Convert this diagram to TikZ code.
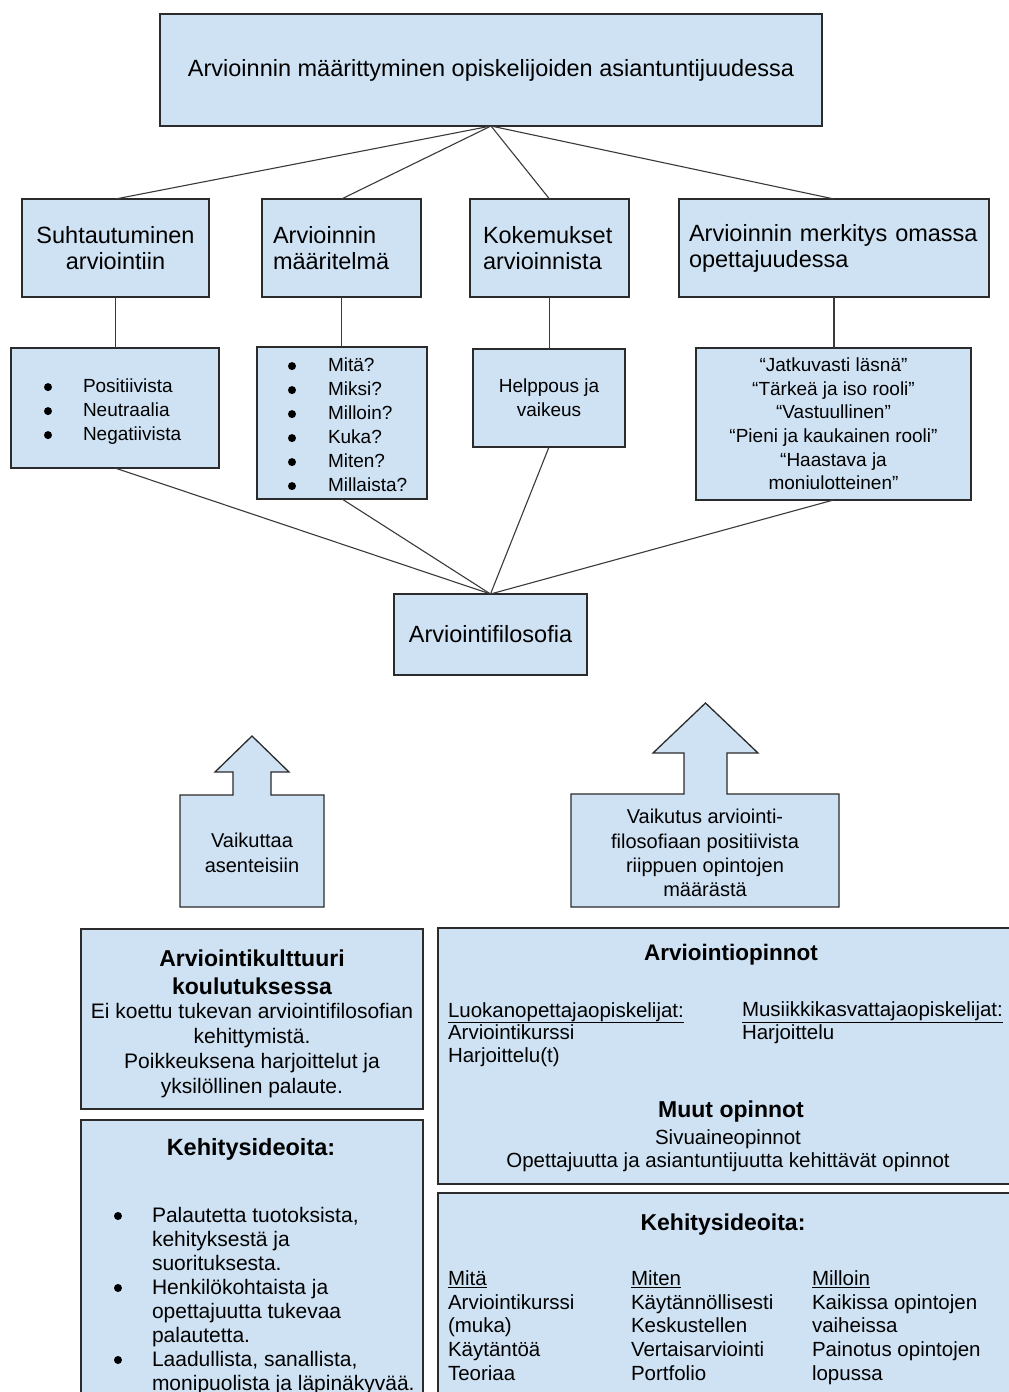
\documentclass[tikz,border=0pt]{standalone}
\usepackage{fontspec}
\setmainfont{Liberation Sans}
\newcommand\myfs[2]{\fontsize{#1}{#2}\selectfont}
\newcommand\mybul{\tikz[baseline=-0.3em]\fill[black] (0pt,0pt) circle[radius=4pt];}
\definecolor{boxfill}{HTML}{CFE2F3}
\definecolor{edge}{HTML}{2B2B2B}
\definecolor{connc}{HTML}{3A3A3A}
\tikzset{
 box/.style={draw=edge, fill=boxfill, line width=1.3pt, inner sep=0pt, outer sep=0pt},
 conn/.style={draw=connc, line width=1.1pt},
 txt/.style={inner sep=0pt, outer sep=0pt, text=black},
}
\begin{document}
\begin{tikzpicture}[x=1pt,y=-1pt]
\useasboundingbox (0,0) rectangle (1009,1392);
\fill[white] (0,0) rectangle (1009,1392);
\clip (0,0) rectangle (1009,1392);

% top
\node[box, minimum width=662, minimum height=112, font=\myfs{23.5}{28}] (top) at (491,70) {Arvioinnin määrittyminen opiskelijoiden asiantuntijuudessa};

% row 2
\node[box, minimum width=187, minimum height=98, align=center, font=\myfs{23.5}{26}] (s2a) at (115.5,248) {Suhtautuminen\\arviointiin};
\node[box, minimum height=98, text width=137, inner xsep=11, align=left, font=\myfs{23.5}{26}] (s2b) at (341.5,248) {Arvioinnin\\määritelmä};
\node[box, minimum height=98, text width=133, inner xsep=13, align=left, font=\myfs{23.5}{26}] (s2c) at (549.5,248) {Kokemukset\\arvioinnista};
\node[box, minimum height=98, text width=290, inner xsep=10, align=left, font=\myfs{23.5}{26}] (s2d) at (834,248) {Arvioinnin merkitys omassa\\opettajuudessa};

% row 3
\node[box, minimum width=208, minimum height=120] (s3a) at (115,408) {};
\node[txt, anchor=west, font=\myfs{19}{24}] (s3at) at (44,412) {\begin{tabular}{@{}p{39pt}@{}l@{}}\mybul & Positiivista\\ \mybul & Neutraalia\\ \mybul & Negatiivista\end{tabular}};
\node[box, minimum width=170, minimum height=152] (s3b) at (342,423) {};
\node[txt, anchor=west, font=\myfs{19}{24}] (s3bt) at (288,427) {\begin{tabular}{@{}p{40pt}@{}l@{}}\mybul & Mitä?\\ \mybul & Miksi?\\ \mybul & Milloin?\\ \mybul & Kuka?\\ \mybul & Miten?\\ \mybul & Millaista?\end{tabular}};
\node[box, minimum width=152, minimum height=98, align=center, font=\myfs{19}{24}] (s3c) at (549,398) {Helppous ja\\vaikeus};
\node[box, minimum width=275, minimum height=152, align=center, font=\myfs{19}{23.6}] (s3d) at (833.5,424) {“Jatkuvasti läsnä”\\“Tärkeä ja iso rooli”\\“Vastuullinen”\\“Pieni ja kaukainen rooli”\\“Haastava ja\\moniulotteinen”};

% filosofia
\node[box, minimum width=193, minimum height=81, font=\myfs{23.5}{28}] (filo) at (490.5,634.5) {Arviointifilosofia};

% connectors
\draw[conn] (top.south) -- (s2a.north);
\draw[conn] (top.south) -- (s2b.north);
\draw[conn] (top.south) -- (s2c.north);
\draw[conn] (top.south) -- (s2d.north);
\draw[conn] (s2a.south) -- (s2a.south |- s3a.north);
\draw[conn] (s2b.south) -- (s2b.south |- s3b.north);
\draw[conn] (s2c.south) -- (s2c.south |- s3c.north);
\draw[conn] (s2d.south) -- (s2d.south |- s3d.north);
\draw[conn] (s3a.south) -- (filo.north);
\draw[conn] (s3b.south) -- (filo.north);
\draw[conn] (s3c.south) -- (filo.north);
\draw[conn] (s3d.south) -- (filo.north);

% block arrows
\path[box, line join=miter] (180,907) -- (180,795) -- (233,795) -- (233,772) -- (215,772) -- (252,736) -- (289,772) -- (271,772) -- (271,795) -- (324,795) -- (324,907) -- cycle;
\node[txt, align=center, font=\myfs{20}{25}] (arrLt) at (252,853) {Vaikuttaa\\asenteisiin};
\path[box, line join=miter] (571,907) -- (571,794) -- (684,794) -- (684,753) -- (653,753) -- (705.5,703) -- (758,753) -- (727,753) -- (727,794) -- (839,794) -- (839,907) -- cycle;
\node[txt, align=center, font=\myfs{20}{24.3}] (arrRt) at (705,853) {Vaikutus arviointi-\\filosofiaan positiivista\\riippuen opintojen\\määrästä};

% bottom left
\node[box, minimum width=342, minimum height=180] (kult) at (252,1019) {};
\node[txt, align=center, font=\bfseries\myfs{23}{28}] (kultT) at (252,972) {Arviointikulttuuri\\koulutuksessa};
\node[txt, align=center, font=\myfs{21}{25}] (kultB) at (252,1050.5) {Ei koettu tukevan arviointifilosofian\\kehittymistä.\\Poikkeuksena harjoittelut ja\\yksilöllinen palaute.};

\node[box, anchor=north west, minimum width=342, minimum height=300] (kehL) at (81,1120) {};
\node[txt, font=\bfseries\myfs{23.5}{28}] (kehLT) at (251,1149) {Kehitysideoita:};
\node[txt, anchor=west, font=\myfs{21}{24}] (kehLB) at (114,1301.5) {\begin{tabular}{@{}p{38pt}@{}l@{}}\mybul & Palautetta tuotoksista,\\ & kehityksestä ja\\ & suorituksesta.\\ \mybul & Henkilökohtaista ja\\ & opettajuutta tukevaa\\ & palautetta.\\ \mybul & Laadullista, sanallista,\\ & monipuolista ja läpinäkyvää.\end{tabular}};

% bottom right
\node[box, anchor=north west, minimum width=580, minimum height=256] (opin) at (438,928) {};
\node[txt, font=\bfseries\myfs{22.5}{28}] (opinT) at (731,955) {Arviointiopinnot};
\node[txt, anchor=west, font=\myfs{20.5}{22.5}] (opinL) at (448,1035) {\begin{tabular}{@{}l@{}}\underline{Luokanopettajaopiskelijat:}\\Arviointikurssi\\Harjoittelu(t)\end{tabular}};
\node[txt, anchor=west, font=\myfs{20.5}{22.5}] (opinR) at (742,1023.5) {\begin{tabular}{@{}l@{}}\underline{Musiikkikasvattajaopiskelijat:}\\Harjoittelu\end{tabular}};
\node[txt, font=\bfseries\myfs{23}{28}] (muutT) at (731,1112) {Muut opinnot};
\node[txt, align=center, font=\myfs{20.5}{23}] (muutB) at (728,1150.5) {Sivuaineopinnot\\Opettajuutta ja asiantuntijuutta kehittävät opinnot};

\node[box, anchor=north west, minimum width=580, minimum height=230] (kehR) at (438,1193) {};
\node[txt, font=\bfseries\myfs{23}{28}] (kehRT) at (723,1225) {Kehitysideoita:};
\node[txt, anchor=west, font=\myfs{20.5}{23.75}] (kehR1) at (448,1328) {\begin{tabular}{@{}l@{}}\underline{Mitä}\\Arviointikurssi\\(muka)\\Käytäntöä\\Teoriaa\end{tabular}};
\node[txt, anchor=west, font=\myfs{20.5}{23.75}] (kehR2) at (631,1328) {\begin{tabular}{@{}l@{}}\underline{Miten}\\Käytännöllisesti\\Keskustellen\\Vertaisarviointi\\Portfolio\end{tabular}};
\node[txt, anchor=west, font=\myfs{20.5}{23.75}] (kehR3) at (812,1328) {\begin{tabular}{@{}l@{}}\underline{Milloin}\\Kaikissa opintojen\\vaiheissa\\Painotus opintojen\\lopussa\end{tabular}};
\end{tikzpicture}
\end{document}
